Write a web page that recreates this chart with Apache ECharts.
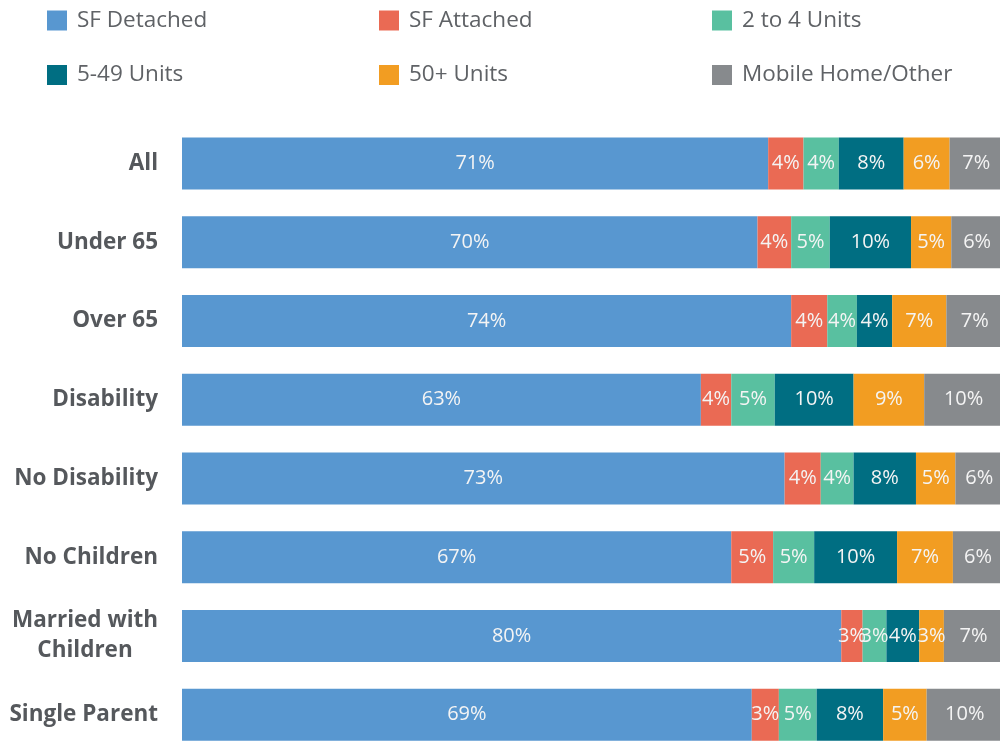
<!DOCTYPE html>
<html>
<head>
<meta charset="utf-8">
<script src="https://cdn.jsdelivr.net/npm/echarts@6/dist/echarts.min.js"></script>
<style>
    html, body { margin: 0; padding: 0; background: #fff; }
    #chart { width: 1000px; height: 741px; }
</style>
</head>
<body>
<div id="chart"></div>
<script>
var categories = ['All', 'Under 65', 'Over 65', 'Disability', 'No Disability', 'No Children', 'Married with\nChildren', 'Single Parent'];
var seriesNames = ['SF Detached', 'SF Attached', '2 to 4 Units', '5-49 Units', '50+ Units', 'Mobile Home/Other'];
var colors = ['#5897d0', '#ea6a54', '#59c0a0', '#006e82', '#f29d22', '#878a8d'];

var sfDetached = [71.4, 70.1, 74.2, 63.2, 73.4, 66.9, 80.3, 69.4];
var sfAttached = [4.3, 4.1, 4.4, 3.7, 4.4, 5.1, 2.6, 3.3];
var units2to4 = [4.3, 4.7, 3.6, 5.3, 4.0, 5.0, 2.9, 4.6];
var units5to49 = [7.9, 9.9, 4.3, 9.6, 7.6, 10.1, 4.0, 8.1];
var units50plus = [5.6, 4.9, 6.6, 8.6, 4.8, 6.8, 3.0, 5.3];
var mobileOther = [6.6, 6.3, 6.9, 9.8, 5.8, 6.1, 7.2, 9.6];

var allValues = [sfDetached, sfAttached, units2to4, units5to49, units50plus, mobileOther];

var initChart = function () {
    var chart = echarts.init(document.getElementById('chart'), null, {renderer: 'canvas'});

    var legendText = {
        fontFamily: 'Open Sans',
        fontSize: 22.5,
        color: '#5f6266',
        padding: [0, 0, 0, 5]
    };
    var makeLegend = function (left, names) {
        return {
            orient: 'vertical',
            left: left,
            top: 9,
            padding: 0,
            itemGap: 31.5,
            itemWidth: 20,
            itemHeight: 20,
            icon: 'rect',
            selectedMode: false,
            textStyle: legendText,
            data: names
        };
    };

    var series = seriesNames.map(function (name, i) {
        return {
            name: name,
            type: 'bar',
            stack: 'total',
            barWidth: 52,
            itemStyle: { color: colors[i] },
            label: {
                show: true,
                position: 'inside',
                color: '#f4f4f4',
                fontFamily: 'Open Sans',
                fontSize: 20,
                formatter: function (p) {
                    return Math.round(p.value) + '%';
                }
            },
            data: allValues[i]
        };
    });

    var labelFont = {
        fontFamily: 'Open Sans',
        fontWeight: 'bold',
        fontSize: 22.5,
        color: '#55585c',
        lineHeight: 30
    };

    var option = {
        animation: false,
        color: colors,
        legend: [
            makeLegend(47, [seriesNames[0], seriesNames[3]]),
            makeLegend(379, [seriesNames[1], seriesNames[4]]),
            makeLegend(712, [seriesNames[2], seriesNames[5]])
        ],
        grid: {
            left: 182,
            top: 124,
            width: 821,
            height: 630,
            outerBoundsMode: 'none'
        },
        xAxis: {
            type: 'value',
            min: 0,
            max: 100,
            show: false
        },
        yAxis: {
            type: 'category',
            inverse: true,
            data: categories,
            axisLine: { show: false },
            axisTick: { show: false },
            axisLabel: {
                margin: 24,
                fontFamily: labelFont.fontFamily,
                fontWeight: labelFont.fontWeight,
                fontSize: labelFont.fontSize,
                color: labelFont.color,
                formatter: function (v) {
                    // two-line label is centred inside its own block
                    if (v.indexOf('\n') >= 0) {
                        return '{c|' + v + '}';
                    }
                    return v;
                },
                rich: {
                    c: Object.assign({ width: 146, align: 'center' }, labelFont)
                }
            }
        },
        series: series
    };
    chart.setOption(option);
};

initChart();
</script>
</body>
</html>
